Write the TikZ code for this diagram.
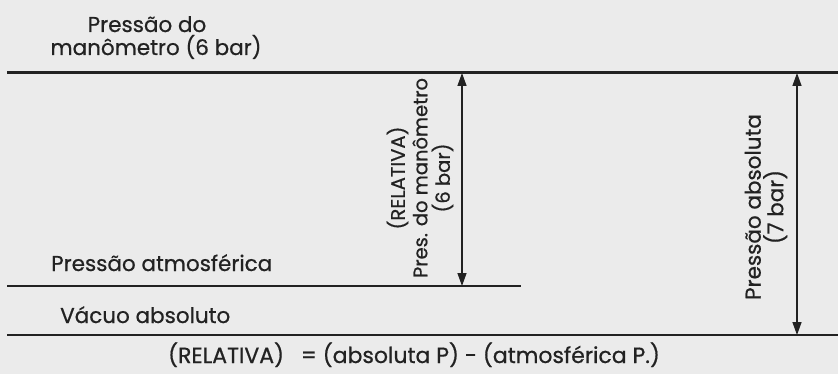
\documentclass[tikz,border=0pt]{standalone}
\usepackage{fontspec}
\setmainfont{Poppins}[FakeBold=0.6]
\usepackage{xcolor}
\usetikzlibrary{arrows.meta}
\usetikzlibrary{positioning}

\definecolor{fundo}{HTML}{EBEBEB}
\definecolor{tinta}{HTML}{222222}

\tikzset{
  rotulo/.style={inner sep=0pt, text=tinta, font=\fontsize{21.5}{22.5}\selectfont},
  nivel/.style={draw=tinta, line width=2pt},
  cota/.style={draw=tinta, line width=1.4pt, {Triangle[length=13pt,width=9pt]}-{Triangle[length=13pt,width=9pt]}}
}

\begin{document}
\begin{tikzpicture}[x=1pt, y=-1pt]
	\fill[fundo] (0,0) rectangle (838,374);
	\useasboundingbox (0,0) rectangle (838,374);

	% niveis de pressao
	\coordinate (topoE) at (7,73);
	\coordinate (topoD) at (838,73);
	\coordinate (atmE) at (7,286);
	\coordinate (atmD) at (521,286);
	\coordinate (vacE) at (7,335);
	\coordinate (vacD) at (838,335);
	\draw[nivel, line width=3pt] (topoE) -- (topoD);
	\draw[nivel] (atmE) -- (atmD);
	\draw[nivel] (vacE) -- (vacD);

	% textos dos niveis
	\node[rotulo, anchor=base] (man1) at (147,32) {Pressão do};
	\node[rotulo, anchor=base] (man2) at (156,55) {manômetro (6 bar)};
	\node[rotulo, anchor=base west] (atm) at (51,271) {Pressão atmosférica};
	\node[rotulo, anchor=base west] (vac) at (60,323) {Vácuo absoluto};

	% cotas
	\coordinate (rel1) at (462,73);
	\coordinate (rel2) at (462,286);
	\coordinate (abs1) at (797,73);
	\coordinate (abs2) at (797,335);
	\draw[cota] (rel1) -- (rel2);
	\draw[cota] (abs1) -- (abs2);
	\node[rotulo, rotate=90, align=center, font=\fontsize{19.5}{22.5}\selectfont] (relativa) at (420,178) {(RELATIVA)\\Pres. do manômetro\\(6 bar)};
	\node[rotulo, rotate=90, align=center] (absoluta) at (766,207) {Pressão absoluta\\(7 bar)};

	% formula
	\node[rotulo, anchor=base, font=\fontsize{22}{24}\selectfont] (formula) at (414,363) {(RELATIVA)\enspace\ = (absoluta P) - (atmosférica P.)};
\end{tikzpicture}
\end{document}
